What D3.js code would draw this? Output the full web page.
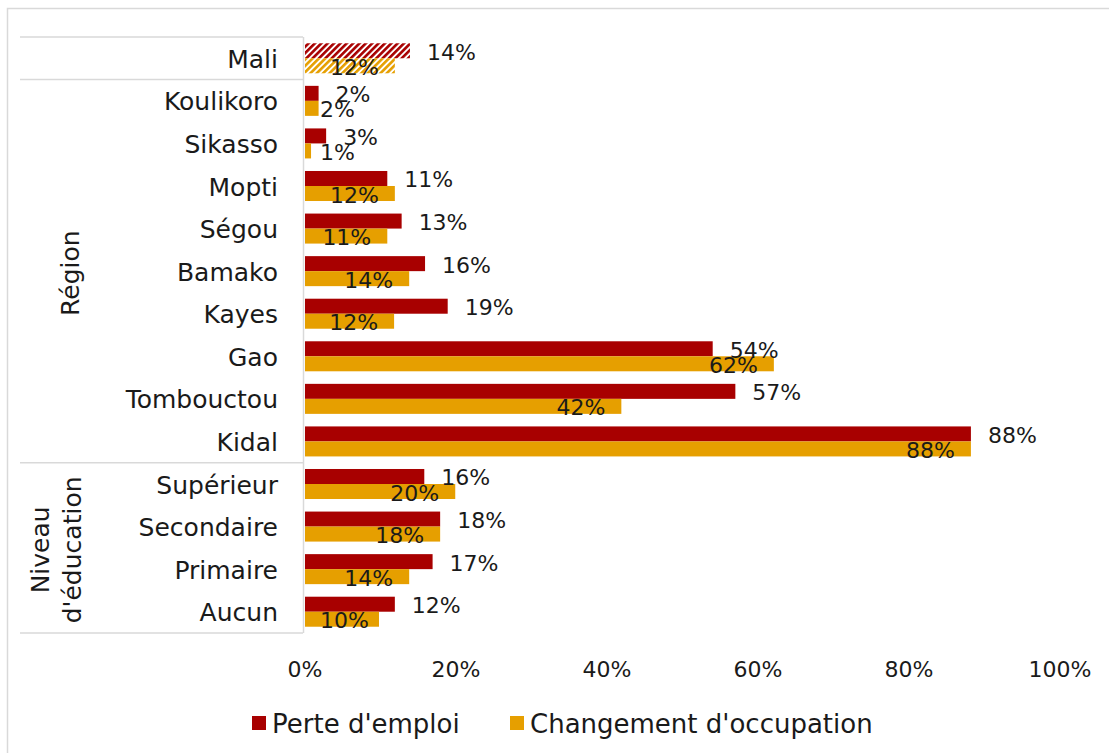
<!DOCTYPE html>
<html><head><meta charset="utf-8">
<script src="https://cdn.jsdelivr.net/npm/d3@7"></script>
<style>
html,body{margin:0;padding:0;background:#fff;}
text{font-family:"DejaVu Sans",sans-serif;fill:#1a1a1a;}
</style></head>
<body><svg id="chart" width="1109" height="753"></svg>
<script>
const categories = ["Mali","Koulikoro","Sikasso","Mopti","Ségou","Bamako","Kayes","Gao","Tombouctou","Kidal","Supérieur","Secondaire","Primaire","Aucun"];
const perteEmploi = [13.9,1.8,2.8,10.9,12.8,15.9,18.9,54,57,88.2,15.8,17.9,16.9,11.9];
const changementOccupation = [11.9,1.8,0.8,11.9,10.9,13.8,11.8,62.1,41.9,88.2,19.9,17.9,13.8,9.8];
const seriesNames = ["Perte d'emploi","Changement d'occupation"];
const seriesColors = ["#A80000","#E69F00"];
const xTicks = [0,20,40,60,80,100];
const groupNames = [["Région"],["Niveau","d'éducation"]];
const groupFirst = ["Koulikoro","Supérieur"];
const groupLast = ["Kidal","Aucun"];
const hatchedCategories = ["Mali"];

(function(){
const svg = d3.select("#chart");
const defs = svg.append("defs");
seriesColors.forEach((c,i)=>{
  const p = defs.append("pattern").attr("id","hatch"+i)
    .attr("patternUnits","userSpaceOnUse").attr("width",4.5).attr("height",4.5)
    .attr("patternTransform","rotate(45)");
  p.append("rect").attr("width",4.5).attr("height",4.5).attr("fill","#fff");
  p.append("rect").attr("width",2.6).attr("height",4.5).attr("fill",c);
});

// outer border
svg.append("rect").attr("x",7.5).attr("y",8.5).attr("width",1120).attr("height",800)
  .attr("fill","none").attr("stroke","#d9d9d9").attr("stroke-width",1.5);

const x = d3.scaleLinear().domain([0,100]).range([305,1060]);
const y = d3.scaleBand().domain(categories).range([37,633]).paddingInner(0.295).paddingOuter(0.1475);
const ys = d3.scaleBand().domain(seriesNames).range([0,y.bandwidth()]);
const step = y.step();
const bandTop = d => y(d) - y.paddingInner()*step/2;

const rows = categories.map((c,i)=>({cat:c, vals:[perteEmploi[i], changementOccupation[i]]}));

// table lines
const lineCol = "#d9d9d9";
const hLines = [categories[0], categories[1], groupFirst[1]].map(bandTop).concat([bandTop(categories[categories.length-1]) + step]);
svg.append("g").selectAll("line").data(hLines).join("line")
  .attr("x1",20).attr("x2",303).attr("y1",d=>d).attr("y2",d=>d)
  .attr("stroke",lineCol).attr("stroke-width",1.5);
svg.append("line").attr("x1",303.5).attr("x2",303.5).attr("y1",bandTop(categories[0])).attr("y2",bandTop(categories[categories.length-1])+step)
  .attr("stroke",lineCol).attr("stroke-width",1.5);

// category labels
svg.append("g").selectAll("text").data(categories).join("text")
  .attr("x",278).attr("y",d=>y(d)+y.bandwidth()/2+1)
  .attr("text-anchor","end").attr("dominant-baseline","central")
  .style("font-size","25px").text(d=>d);

// group labels
groupNames.forEach((lines,gi)=>{
  const y0 = bandTop(groupFirst[gi]), y1 = bandTop(groupLast[gi]) + step;
  const cy = (y0+y1)/2 + 2;
  const n = lines.length;
  const cx = n>1 ? 56 : 70;
  const lh = 32;
  const g = svg.append("g").attr("transform",`translate(${cx},${cy}) rotate(-90)`);
  lines.forEach((t,li)=>{
    g.append("text").attr("x",0).attr("y",(li-(n-1)/2)*lh)
      .attr("text-anchor","middle").attr("dominant-baseline","central")
      .style("font-size","25px").text(t);
  });
});

// bars
const barG = svg.append("g");
rows.forEach(r=>{
  r.vals.forEach((v,si)=>{
    const hatched = hatchedCategories.includes(r.cat);
    barG.append("rect")
      .attr("x",x(0)).attr("y",y(r.cat)+ys(seriesNames[si]))
      .attr("width",x(v)-x(0)).attr("height",ys.bandwidth())
      .attr("fill", hatched ? `url(#hatch${si})` : seriesColors[si]);
  });
});

// data labels
const labG = svg.append("g");
rows.forEach(r=>{
  const v0 = r.vals[0];
  labG.append("text").attr("x",x(v0)+17).attr("y",y(r.cat)+ys(seriesNames[0])+ys.bandwidth()/2+1.5)
    .attr("dominant-baseline","central").style("font-size","22px")
    .text(Math.round(v0)+"%");
  const v1 = r.vals[1];
  const t = labG.append("text").attr("dominant-baseline","central").style("font-size","22px")
    .attr("y",y(r.cat)+ys(seriesNames[1])+ys.bandwidth()/2+1.5)
    .text(Math.round(v1)+"%");
  const w = t.node().getComputedTextLength();
  let right = x(v1) - 16;
  if (right - w < 320) right = 320 + w;
  t.attr("x",right).attr("text-anchor","end");
});

// x axis tick labels
svg.append("g").selectAll("text").data(xTicks).join("text")
  .attr("x",d=>x(d)).attr("y",669).attr("text-anchor","middle").attr("dominant-baseline","central")
  .style("font-size","22px").text(d=>d+"%");

// legend
const legX = [252, 510];
seriesNames.forEach((s,i)=>{
  svg.append("rect").attr("x",legX[i]).attr("y",716).attr("width",14).attr("height",14).attr("fill",seriesColors[i]);
  svg.append("text").attr("x",legX[i]+20).attr("y",724).attr("dominant-baseline","central")
    .style("font-size","26px").text(s);
});
})();
</script></body></html>
